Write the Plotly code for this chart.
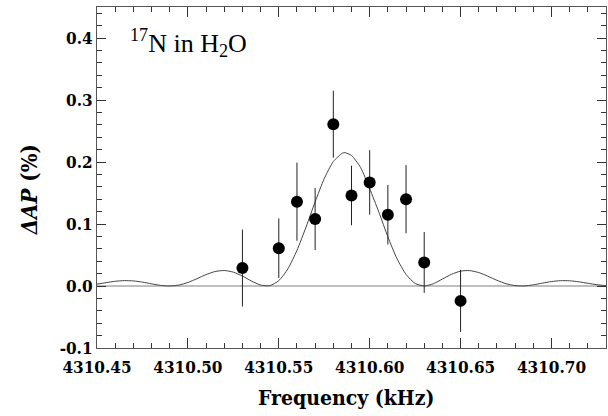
import plotly.graph_objects as go

# Measured asymmetry change versus RF frequency
freq_khz = [4310.53, 4310.55, 4310.56, 4310.57, 4310.58, 4310.59,
            4310.60, 4310.61, 4310.62, 4310.63, 4310.65]
delta_ap = [0.029, 0.061, 0.136, 0.108, 0.261, 0.146,
            0.167, 0.115, 0.140, 0.038, -0.024]
delta_ap_err = [0.062, 0.048, 0.063, 0.050, 0.054, 0.048,
                0.052, 0.048, 0.055, 0.049, 0.050]

# Fitted resonance line shape
fit_freq = [4310.450, 4310.455, 4310.460, 4310.465, 4310.470, 4310.475,
            4310.480, 4310.485, 4310.490, 4310.495, 4310.500, 4310.505,
            4310.510, 4310.515, 4310.520, 4310.525, 4310.530, 4310.535,
            4310.540, 4310.545, 4310.550, 4310.555, 4310.560, 4310.565,
            4310.570, 4310.575, 4310.580, 4310.585, 4310.5865, 4310.590,
            4310.595, 4310.600, 4310.605, 4310.610, 4310.615, 4310.620,
            4310.625, 4310.630, 4310.635, 4310.640, 4310.645, 4310.650,
            4310.655, 4310.660, 4310.665, 4310.670, 4310.675, 4310.680,
            4310.685, 4310.690, 4310.695, 4310.700, 4310.705, 4310.710,
            4310.715, 4310.720, 4310.725, 4310.730]
fit_ap = [0.0029, 0.0054, 0.0076, 0.0087, 0.0082, 0.0063,
          0.0035, 0.0010, 0.0000, 0.0015, 0.0057, 0.0118,
          0.0184, 0.0234, 0.0250, 0.0224, 0.0160, 0.0079,
          0.0015, 0.0005, 0.0086, 0.0277, 0.0575, 0.0951,
          0.1358, 0.1731, 0.2008, 0.2142, 0.2150, 0.2105,
          0.1912, 0.1571, 0.1196, 0.0794, 0.0442, 0.0187,
          0.0041, 0.0000, 0.0036, 0.0112, 0.0189, 0.0240,
          0.0248, 0.0217, 0.0158, 0.0092, 0.0037, 0.0006,
          0.0001, 0.0019, 0.0046, 0.0072, 0.0086, 0.0084,
          0.0068, 0.0044, 0.0021, 0.0005]

x_ticks = [4310.45, 4310.50, 4310.55, 4310.60, 4310.65, 4310.70]
x_tick_text = ["4310.45", "4310.50", "4310.55", "4310.60", "4310.65", "4310.70"]
y_ticks = [-0.1, 0.0, 0.1, 0.2, 0.3, 0.4]
y_tick_text = ["-0.1", "0.0", "0.1", "0.2", "0.3", "0.4"]

SERIF = "Liberation Serif"
BOLD_SERIF = "DejaVu Serif Condensed, DejaVu Serif, serif"


def bold(labels):
    return ["<b>%s</b>" % t for t in labels]


fig = go.Figure()

# zero baseline
fig.add_trace(go.Scatter(
    x=[4310.45, 4310.73], y=[0, 0], mode="lines",
    line=dict(color="#aaaaaa", width=1.5), hoverinfo="skip", showlegend=False))

# fit curve
fig.add_trace(go.Scatter(
    x=fit_freq, y=fit_ap, mode="lines",
    line=dict(color="#444444", width=1, shape="spline", smoothing=0.6),
    showlegend=False))

# data with error bars
fig.add_trace(go.Scatter(
    x=freq_khz, y=delta_ap, mode="markers",
    marker=dict(color="black", size=12),
    error_y=dict(type="data", array=delta_ap_err, visible=True,
                 color="#222222", thickness=1, width=0),
    showlegend=False))

axis_common = dict(
    showline=True, linecolor="#555555", linewidth=1, mirror="allticks",
    ticks="inside", tickcolor="#333333", showgrid=False, zeroline=False,
    tickfont=dict(family=BOLD_SERIF, size=17, color="black"),
)

fig.update_xaxes(
    range=[4310.45, 4310.73], tickvals=x_ticks, ticktext=bold(x_tick_text),
    ticklen=10, tickwidth=1, ticklabelstandoff=4,
    minor=dict(dtick=0.01, tick0=4310.45, ticks="inside", ticklen=5,
               tickcolor="#333333", showgrid=False),
    **axis_common)

fig.update_yaxes(
    range=[-0.1, 0.45], tickvals=y_ticks, ticktext=bold(y_tick_text),
    ticklen=9, tickwidth=1,
    minor=dict(dtick=0.02, tick0=0, ticks="inside", ticklen=5,
               tickcolor="#333333", showgrid=False),
    **axis_common)

fig.add_annotation(
    text="<sup>17</sup>N in H<sub>2</sub>O", xref="paper", yref="paper",
    x=0.06, y=0.895, xanchor="left", yanchor="middle", showarrow=False,
    font=dict(family=SERIF, size=26, color="black"))

fig.add_annotation(
    text="<b><i>ΔAP</i> (%)</b>", xref="paper", yref="paper",
    x=-0.132, y=0.465, xanchor="center", yanchor="middle", showarrow=False,
    textangle=-90,
    font=dict(family=BOLD_SERIF, size=22, color="black"))

fig.add_annotation(
    text="<b>Frequency (kHz)</b>", xref="paper", yref="paper",
    x=0.49, y=-0.146, xanchor="center", yanchor="middle", showarrow=False,
    font=dict(family=BOLD_SERIF, size=21, color="black"))

fig.update_layout(
    width=608, height=416,
    margin=dict(l=97, r=2, t=7, b=68),
    plot_bgcolor="white", paper_bgcolor="white",
)

fig.write_html("out.html")
